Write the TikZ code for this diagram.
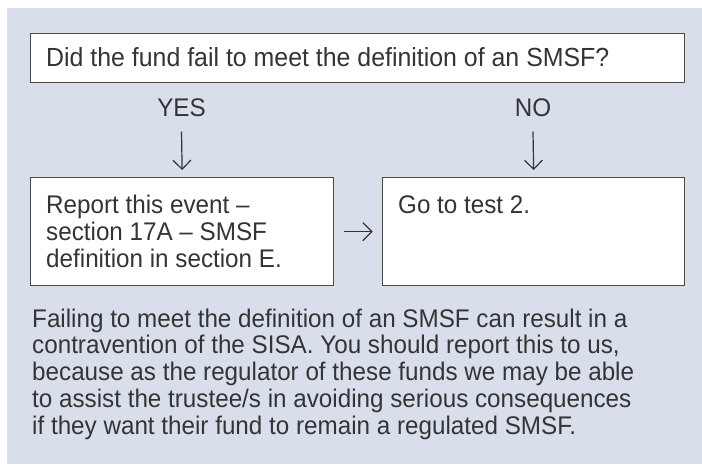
\documentclass[tikz,border=0pt]{standalone}
\usepackage{fontspec}
\setmainfont[FakeStretch=0.95]{Liberation Sans}
\usetikzlibrary{arrows.meta}
\definecolor{panel}{RGB}{217,222,235}
\definecolor{edge}{RGB}{74,74,74}
\definecolor{ink}{RGB}{52,52,52}
\begin{document}
\begin{tikzpicture}[x=1pt,y=-1pt,
  txt/.style={inner sep=0pt, anchor=base west, text=ink, font=\fontsize{25.5}{26.8}\selectfont},
  lbl/.style={inner sep=0pt, anchor=base, text=ink, font=\fontsize{25.5}{26.8}\selectfont},
  box/.style={draw=edge, line width=1.3pt, fill=white, inner sep=0pt, anchor=north west},
  arr/.style={draw=ink, line width=1.2pt, -{Straight Barb[length=9pt,width=18pt]}}]
\useasboundingbox (0,0) rectangle (702,464);
\fill[panel] (7,8) rectangle (702,464);
% question box
\node[box, minimum width=654pt, minimum height=49.5pt] (q) at (30,32.5) {};
\node[txt, font=\fontsize{26.2}{26.8}\selectfont] (qt) at (46,66.5) {Did the fund fail to meet the definition of an SMSF?};
% labels
\node[lbl] (yes) at (181.5,116.5) {YES};
\node[lbl] (no) at (533,116.5) {NO};
% answer boxes
\node[box, minimum width=303pt, minimum height=108pt] (lbox) at (30,177) {};
\node[box, minimum width=302pt, minimum height=108pt] (rbox) at (382,177) {};
\node[txt] (l1) at (46,213.5) {Report this event –};
\node[txt] (l2) at (46,240.5) {section 17A – SMSF};
\node[txt] (l3) at (46,267.5) {definition in section E.};
\node[txt] (r1) at (398,213.5) {Go to test 2.};
% arrows
\draw[arr] ([yshift=-15pt]yes.base) -- ([yshift=7pt]lbox.north);
\draw[arr] ([yshift=-15pt]no.base) -- ([yshift=7pt]rbox.north);
\draw[arr] ([xshift=9.7pt]lbox.east) -- ([xshift=-9.3pt]rbox.west);
% paragraph
\node[txt] (p1) at (32,327) {Failing to meet the definition of an SMSF can result in a};
\node[txt] (p2) at (32,353.8) {contravention of the SISA. You should report this to us,};
\node[txt] (p3) at (32,380.6) {because as the regulator of these funds we may be able};
\node[txt] (p4) at (32,407.4) {to assist the trustee/s in avoiding serious consequences};
\node[txt] (p5) at (32,434.2) {if they want their fund to remain a regulated SMSF.};
\end{tikzpicture}
\end{document}
